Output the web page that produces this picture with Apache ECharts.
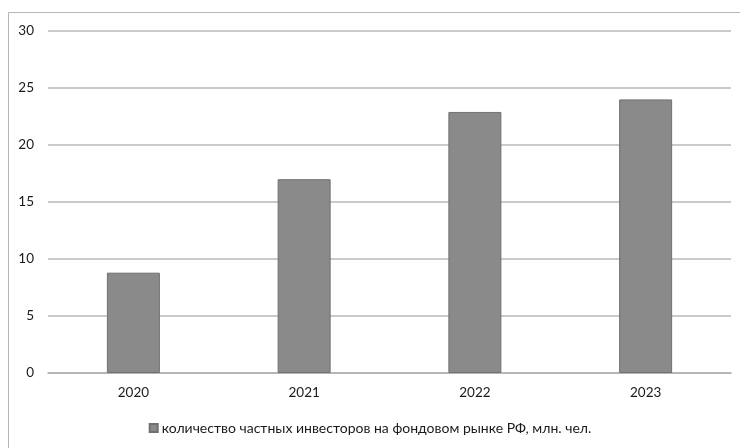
<!DOCTYPE html>
<html>
<head>
<meta charset="utf-8">
<script src="https://cdn.jsdelivr.net/npm/echarts@6/dist/echarts.min.js"></script>
<style>html,body{margin:0;padding:0;background:#fff}#c{width:740px;height:448px}</style>
</head>
<body>
<div id="c"></div>
<script>
const categories = ['2020', '2021', '2022', '2023'];
const investors = [8.8, 17, 22.9, 24];
const seriesName = 'количество частных инвесторов на фондовом рынке РФ, млн. чел.';

const chart = echarts.init(document.getElementById('c'), null, {renderer: 'canvas'});
chart.setOption({
  backgroundColor: '#fff',
  animation: false,
  textStyle: {fontFamily: 'Lato'},
  graphic: [{
    type: 'rect', shape: {x: 8.5, y: 12.5, width: 760, height: 460},
    style: {fill: 'none', stroke: '#b5b5b5', lineWidth: 1}, silent: true
  }],
  grid: {left: 48, right: 9, top: 31, bottom: 75, containLabel: false},
  legend: {
    data: [seriesName], bottom: 8, left: 'center',
    itemWidth: 8, itemHeight: 8, itemGap: 5,
    icon: 'rect',
    textStyle: {fontFamily: 'Lato', fontSize: 14, color: '#1a1a1a', padding: [0, 0, 0, -1]}
  },
  xAxis: {
    type: 'category', data: categories,
    axisLine: {lineStyle: {color: '#b0b0b0', width: 1.5}},
    axisTick: {show: false},
    axisLabel: {color: '#1a1a1a', fontSize: 13.5, margin: 13, fontFamily: 'Lato'}
  },
  yAxis: {
    type: 'value', min: 0, max: 30, interval: 5,
    axisLine: {show: false}, axisTick: {show: false},
    axisLabel: {color: '#1a1a1a', fontSize: 13.5, margin: 14, fontFamily: 'Lato'},
    splitLine: {lineStyle: {color: '#b8b8b8', width: 1.5}}
  },
  series: [{
    name: seriesName, type: 'bar', data: investors, barWidth: 53,
    itemStyle: {color: '#8a8a8a', borderColor: '#707070', borderWidth: 1}
  }]
});
</script>
</body>
</html>
